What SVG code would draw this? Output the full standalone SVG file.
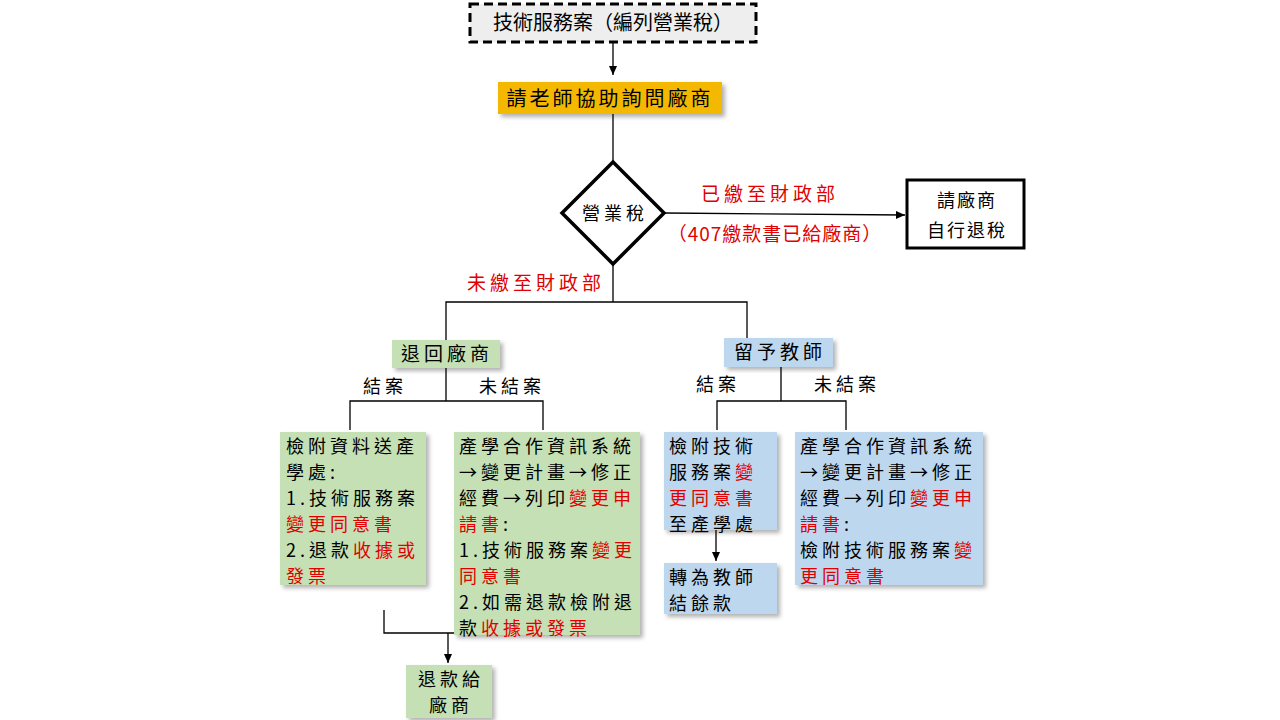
<svg xmlns="http://www.w3.org/2000/svg" width="1280" height="720" viewBox="0 0 1280 720">
<defs>
<style>
text{font-family:"Noto Sans CJK TC","Liberation Serif",sans-serif;font-size:18px;fill:#000;letter-spacing:4px}
.r{fill:#e00000}
.g{fill:#c5e0b4}
.b{fill:#bdd7ee}
.ln{stroke:#000;stroke-width:1.3;fill:none}
</style>
<marker id="ar" markerWidth="10" markerHeight="10" refX="9" refY="5" orient="auto" markerUnits="userSpaceOnUse"><path d="M0,1 L9,5 L0,9 z" fill="#000"/></marker>
<filter id="sh" x="-10%" y="-10%" width="130%" height="130%"><feDropShadow dx="3" dy="3" stdDeviation="2" flood-color="#000" flood-opacity="0.3"/></filter>
</defs>
<rect width="1280" height="720" fill="#fff"/>
<g id="connectors">
<path class="ln" d="M613,43 V75" marker-end="url(#ar)"/>
<path class="ln" d="M613,114 V162"/>
<path class="ln" d="M665,213 L905,215" marker-end="url(#ar)"/>
<path class="ln" d="M613,265 V302 M446,340 V302 H747 V340"/>
<path class="ln" d="M446,368 V401 M350,430 V401 H543 V430"/>
<path class="ln" d="M781,367 V401 M717,430 V401 H846 V430"/>
<path class="ln" d="M384,610 V633 H513 V612"/>
<path class="ln" d="M448,633 V663" marker-end="url(#ar)"/>
<path class="ln" d="M716,530 V561" marker-end="url(#ar)"/>
<text x="770" y="201" text-anchor="middle" class="r" style="font-size:19px">已繳至財政部</text>
<text x="775" y="241" text-anchor="middle" class="r" style="font-size:19px;letter-spacing:1px">（407繳款書已給廠商）</text>
<text x="536" y="290" text-anchor="middle" class="r" style="font-size:19px">未繳至財政部</text>
<text x="385" y="393" text-anchor="middle">結案</text>
<text x="512" y="393" text-anchor="middle">未結案</text>
<text x="718" y="391" text-anchor="middle">結案</text>
<text x="847" y="391" text-anchor="middle">未結案</text>
</g>
<g id="n1"><rect x="470" y="4" width="286" height="38" fill="#eeeeee" stroke="#000" stroke-width="3" stroke-dasharray="9,5"/><text x="613" y="30" text-anchor="middle" style="font-size:20px;letter-spacing:0px">技術服務案（編列營業稅）</text></g>
<g id="n2"><rect x="498" y="82" width="224" height="32" fill="#f5b800" filter="url(#sh)"/><text x="610" y="106" text-anchor="middle" style="font-size:20px;letter-spacing:3px">請老師協助詢問廠商</text></g>
<g id="n3"><polygon points="613,162 664,213 613,264 562,213" fill="#fff" stroke="#000" stroke-width="3.5"/><text x="615" y="220" text-anchor="middle">營業稅</text></g>
<g id="n4"><rect x="907" y="180" width="117" height="68" fill="#fff" stroke="#000" stroke-width="3"/><text x="967" y="207" text-anchor="middle" style="letter-spacing:2px">請廠商</text><text x="967" y="237" text-anchor="middle" style="letter-spacing:2px">自行退稅</text></g>
<g id="n5"><rect x="392" y="340" width="108" height="28" class="g" filter="url(#sh)"/><text x="447" y="361" text-anchor="middle" style="font-size:19px">退回廠商</text></g>
<g id="n6"><rect x="724" y="338" width="109" height="29" class="b" filter="url(#sh)"/><text x="780" y="359" text-anchor="middle" style="font-size:19px">留予教師</text></g>
<g id="n7"><rect x="280" y="432" width="146" height="153" class="g" filter="url(#sh)"/>
<text x="286" y="453">檢附資料送產</text><text x="286" y="479">學處:</text><text x="286" y="505">1.技術服務案</text><text x="286" y="531" class="r">變更同意書</text><text x="286" y="557">2.退款<tspan class="r">收據或</tspan></text><text x="286" y="583" class="r">發票</text></g>
<g id="n8"><rect x="454" y="432" width="186" height="203" class="g" filter="url(#sh)"/>
<text x="459" y="453">產學合作資訊系統</text><text x="459" y="479">→變更計畫→修正</text><text x="459" y="505">經費→列印<tspan class="r">變更申</tspan></text><text x="459" y="531"><tspan class="r">請書</tspan>:</text><text x="459" y="557">1.技術服務案<tspan class="r">變更</tspan></text><text x="459" y="583" class="r">同意書</text><text x="459" y="609">2.如需退款檢附退</text><text x="459" y="635">款<tspan class="r">收據或發票</tspan></text></g>
<g id="n9"><rect x="406" y="665" width="86" height="53" class="g" filter="url(#sh)"/><text x="451" y="686" text-anchor="middle">退款給</text><text x="451" y="712" text-anchor="middle">廠商</text></g>
<g id="n10"><rect x="664" y="432" width="113" height="98" class="b" filter="url(#sh)"/>
<text x="669" y="453">檢附技術</text><text x="669" y="479">服務案<tspan class="r">變</tspan></text><text x="669" y="505" class="r">更同意書</text><text x="669" y="531">至產學處</text></g>
<g id="n11"><rect x="664" y="563" width="113" height="51" class="b" filter="url(#sh)"/><text x="669" y="584">轉為教師</text><text x="669" y="610">結餘款</text></g>
<g id="n12"><rect x="795" y="432" width="188" height="153" class="b" filter="url(#sh)"/>
<text x="800" y="453">產學合作資訊系統</text><text x="800" y="479">→變更計畫→修正</text><text x="800" y="505">經費→列印<tspan class="r">變更申</tspan></text><text x="800" y="531"><tspan class="r">請書</tspan>:</text><text x="800" y="557">檢附技術服務案<tspan class="r">變</tspan></text><text x="800" y="583" class="r">更同意書</text></g>
</svg>
